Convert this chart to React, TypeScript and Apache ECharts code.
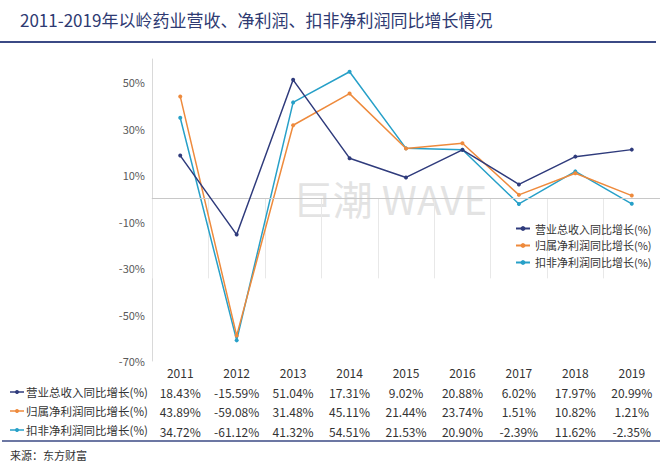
import React, { useEffect, useRef } from "react";
import * as echarts from "echarts";

const years = ["2011", "2012", "2013", "2014", "2015", "2016", "2017", "2018", "2019"];
const revenueGrowth = [18.43, -15.59, 51.04, 17.31, 9.02, 20.88, 6.02, 17.97, 20.99];
const netProfitGrowth = [43.89, -59.08, 31.48, 45.11, 21.44, 23.74, 1.51, 10.82, 1.21];
const deductedGrowth = [34.72, -61.12, 41.32, 54.51, 21.53, 20.9, -2.39, 11.62, -2.35];
const seriesNames = ["营业总收入同比增长(%)", "归属净利润同比增长(%)", "扣非净利润同比增长(%)"];
const seriesColors = ["#2f3b7c", "#ee8a3c", "#27a0c8"];
const titleText = "2011-2019年以岭药业营收、净利润、扣非净利润同比增长情况";
const sourceText = "来源：东方财富";
const watermarkText = "巨潮 WAVE";

const FONT = "'Noto Sans CJK SC', 'Noto Sans', sans-serif";

const fmt = (v: number) => v.toFixed(2) + "%";

export default function App() {
  const ref = useRef<HTMLDivElement>(null);
  useEffect(() => {
    if (!ref.current) return;
    const chart = echarts.init(ref.current, undefined, { renderer: "svg" });
    const allSeries = [revenueGrowth, netProfitGrowth, deductedGrowth];
    const rowY = [392, 411, 430];
    const leftLabels: any[] = [];
    seriesNames.forEach((n, i) => {
      leftLabels.push({
        type: "line",
        shape: { x1: 10, y1: rowY[i], x2: 24, y2: rowY[i] },
        style: { stroke: seriesColors[i], lineWidth: 1.5 },
      });
      leftLabels.push({
        type: "circle",
        shape: { cx: 17, cy: rowY[i], r: 2 },
        style: { fill: seriesColors[i] },
      });
      leftLabels.push({
        type: "text",
        x: 26,
        y: rowY[i],
        style: {
          text: n,
          fill: "#333",
          font: `11.5px ${FONT}`,
          textVerticalAlign: "middle",
          verticalAlign: "middle",
        },
      });
    });

    chart.setOption({
      animation: false,
      textStyle: { fontFamily: FONT },
      grid: { left: 152, right: 0, top: 59, bottom: 108, containLabel: false },
      legend: {
        show: true,
        orient: "vertical",
        left: 510,
        top: 218,
        itemWidth: 14,
        itemHeight: 6,
        itemGap: 6,
        textStyle: { fontSize: 11, color: "#333", fontFamily: FONT },
        data: seriesNames,
      },
      xAxis: {
        type: "category",
        data: years,
        boundaryGap: true,
        axisLine: { show: true, lineStyle: { color: "#e3e3e3", width: 1 } },
        axisTick: { show: true, length: 80, inside: false, lineStyle: { color: "#e8e8e8" } },
        axisLabel: {
          interval: 0,
          margin: 2,
          formatter: (v: string, idx: number) =>
            `{y|${v}}\n{v|${fmt(allSeries[0][idx])}}\n{v|${fmt(allSeries[1][idx])}}\n{v|${fmt(allSeries[2][idx])}}`,
          rich: {
            y: { fontSize: 12, color: "#333", lineHeight: 19.5, fontFamily: FONT },
            v: { fontSize: 12, color: "#333", lineHeight: 19.5, fontFamily: FONT },
          },
        },
        splitLine: { show: false },
      },
      yAxis: {
        type: "value",
        min: -70,
        max: 60,
        interval: 20,
        axisLine: { show: true, lineStyle: { color: "#d9d9d9" } },
        axisTick: { show: false },
        splitLine: { show: false },
        axisLabel: {
          showMaxLabel: false,
          formatter: (v: number) => (v === 60 ? "" : v + "%"),
          color: "#595959",
          fontSize: 11,
          margin: 7,
          fontFamily: FONT,
        },
      },
      graphic: [
        {
          type: "text",
          left: 20,
          top: 11,
          style: { text: titleText, fill: "#2e3a72", font: `normal 17px ${FONT}` },
        },
        {
          type: "line",
          shape: { x1: 0, y1: 42, x2: 656, y2: 42 },
          style: { stroke: "#3b4a85", lineWidth: 2 },
        },
        {
          type: "text",
          x: 390,
          y: 198,
          z: -1,
          style: {
            text: watermarkText,
            fill: "rgba(200,200,200,0.5)",
            font: `40px ${FONT}`,
            textAlign: "center",
            align: "center",
            textVerticalAlign: "middle",
            verticalAlign: "middle",
          },
        },
        ...leftLabels,
        {
          type: "line",
          shape: { x1: 2, y1: 441, x2: 660, y2: 441 },
          style: { stroke: "#3b4a85", lineWidth: 1.5 },
        },
        {
          type: "text",
          x: 10,
          y: 455,
          style: {
            text: sourceText,
            fill: "#333",
            font: `11px ${FONT}`,
            textVerticalAlign: "middle",
            verticalAlign: "middle",
          },
        },
      ],
      series: allSeries.map((d, i) => ({
        name: seriesNames[i],
        type: "line",
        data: d,
        symbol: "circle",
        symbolSize: 4,
        showSymbol: true,
        lineStyle: { color: seriesColors[i], width: 1.5 },
        itemStyle: { color: seriesColors[i] },
        z: 3 - i + 2,
        markLine:
          i === 0
            ? {
                silent: true,
                symbol: "none",
                label: { show: false },
                lineStyle: { color: "#c8c8c8", type: "solid", width: 1 },
                data: [{ yAxis: 0 }],
              }
            : undefined,
      })),
    });
    return () => chart.dispose();
  }, []);
  return <div ref={ref} style={{ width: 660, height: 469, position: "absolute", left: 0, top: 0, background: "#fff" }} />;
}
